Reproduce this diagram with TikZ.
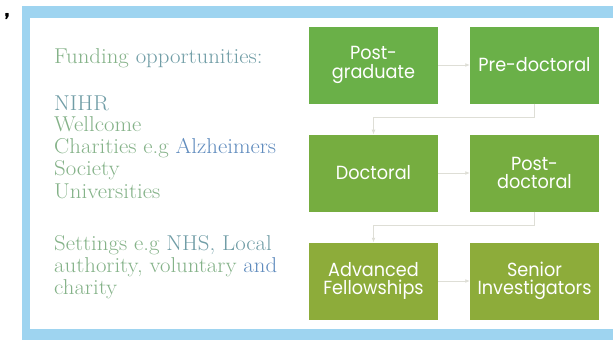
\documentclass[tikz,border=0pt]{standalone}
\usepackage{fontspec}
\newfontfamily\boxfont[FakeStretch=0.93]{Poppins}
\newfontfamily\listfont[FakeStretch=1.06]{Latin Modern Roman}
\usetikzlibrary{arrows.meta,positioning,calc}
\definecolor{frameblue}{RGB}{158,212,240}
\definecolor{stagegreen}{RGB}{106,176,72}
\definecolor{midgreen}{RGB}{118,173,64}
\definecolor{olivegreen}{RGB}{141,172,58}
\definecolor{flowgrey}{RGB}{222,222,214}
\definecolor{textgreen}{RGB}{132,178,136}
\definecolor{textblue}{RGB}{96,140,190}
\newcommand{\greenw}[1]{\textcolor{textgreen}{#1}}
\newcommand{\bluew}[1]{\textcolor{textblue}{#1}}
\newcommand{\tealw}[1]{\textcolor{textgreen!45!textblue}{#1}}
\tikzset{
  stage/.style={text=white, align=center, inner sep=0pt,
    minimum width=129pt, minimum height=77pt,
    font=\boxfont\fontsize{19}{18.5}\selectfont},
  flow/.style={-{Latex[length=1.6mm,width=1.3mm]}, line width=0.6pt, draw=flowgrey},
  listline/.style={anchor=base west, inner sep=0pt,
    font=\listfont\fontsize{21.5}{22}\selectfont}
}

\begin{document}
\begin{tikzpicture}[x=1pt,y=-1pt]
\useasboundingbox (0,0) rectangle (613,340);
\fill[white] (0,0) rectangle (613,340);

% Frame
\fill[frameblue] (22,6) rectangle (613,340);
\fill[white] (30,18) rectangle (613,329);
\node[font=\sffamily\bfseries\fontsize{26}{26}\selectfont, inner sep=0pt] (tick) at (7,22) {’};

% Left column text
\node[listline] (fund) at (54,63) {\greenw{Funding} \tealw{opportunities:}};
\node[listline] (nihr) at (54,110) {\tealw{NIHR}};
\node[listline] (wellcome) at (54,131) {\greenw{Wellcome}};
\node[listline] (charities) at (54,153) {\greenw{Charities e.g} \bluew{Alzheimers}};
\node[listline] (society) at (54,175) {\greenw{Society}};
\node[listline] (unis) at (54,198) {\greenw{Universities}};
\node[listline] (set1) at (54,250) {\greenw{Settings e.g} \tealw{NHS, Local}};
\node[listline] (set2) at (54,272) {\greenw{authority, voluntary} \bluew{and}};
\node[listline] (set3) at (54,294) {\greenw{charity}};

% Career stages
\node[stage, fill=stagegreen] (pg) at (373.5,65) {Post-\\graduate};
\node[stage, fill=stagegreen] (pre) at (534.5,65) {Pre-doctoral};
\node[stage, fill=midgreen] (doc) at (373.5,173) {Doctoral};
\node[stage, fill=midgreen] (post) at (534.5,173) {Post-\\doctoral};
\node[stage, fill=olivegreen] (adv) at (373.5,281) {Advanced\\Fellowships};
\node[stage, fill=olivegreen] (senior) at (534.5,281) {Senior\\Investigators};

% Flow arrows
\draw[flow] (pg.east) -- (pre.west);
\draw[flow] (pre.south) -- ++(0,14) -| (doc.north);
\draw[flow] (doc.east) -- (post.west);
\draw[flow] (post.south) -- ++(0,14) -| (adv.north);
\draw[flow] (adv.east) -- (senior.west);

\end{tikzpicture}
\end{document}
